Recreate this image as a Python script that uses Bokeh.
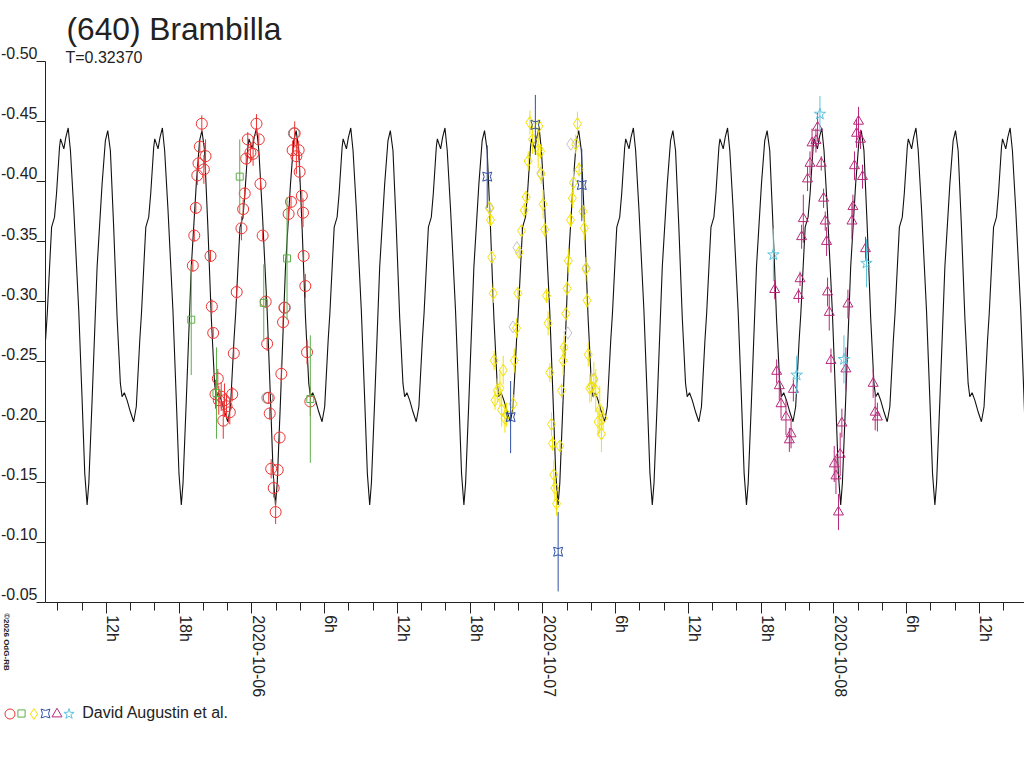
import math
from datetime import datetime, timezone

from bokeh.plotting import figure
from bokeh.models import Range1d, FixedTicker, Label, Legend, LegendItem, LinearAxis, ColumnDataSource
from bokeh.embed import file_html
from bokeh.resources import INLINE

# times are hours after 2020-10-05 00:00 UT, values are reduced magnitudes
period_h = 0.32370 * 24
epoch_h = 8.84

# one period of the model lightcurve (phase, mag)
model_phase = [0.000, 0.024, 0.060, 0.112, 0.148, 0.176, 0.201, 0.219, 0.254, 0.307,
               0.360, 0.395, 0.420, 0.448, 0.483, 0.519, 0.554, 0.572, 0.596, 0.625,
               0.660, 0.695, 0.723, 0.760, 0.778, 0.806, 0.824, 0.855, 0.876, 0.908,
               0.919, 0.954, 0.975]
model_mag = [-0.4445, -0.4257, -0.3759, -0.2928, -0.2181, -0.1572, -0.1309, -0.1489, -0.2181, -0.3288,
             -0.3980, -0.4340, -0.4423, -0.4257, -0.3620, -0.2873, -0.2320, -0.2209, -0.2242, -0.2181,
             -0.2084, -0.2001, -0.2126, -0.2679, -0.2901, -0.3344, -0.3620, -0.3703, -0.3897, -0.4284,
             -0.4354, -0.4271, -0.4367]

red_t = [19.86, 19.70, 20.17, 19.59, 20.03, 19.49, 19.37, 19.24, 19.12, 20.58,
         20.69, 20.80, 22.50, 21.18, 20.99, 21.46, 21.73, 21.90, 22.17, 21.63,
         22.37, 21.26, 22.74, 24.37, 23.65, 24.56, 23.87, 24.09, 23.52, 24.70,
         23.40, 23.27, 23.13, 24.88, 25.13, 25.25, 26.42, 25.38, 25.46, 26.28,
         25.58, 26.12, 25.79, 25.95, 27.52, 27.35, 27.85, 27.66, 27.93, 28.11,
         27.22, 27.02, 28.21, 28.26, 28.40, 26.67, 26.56, 28.54, 28.81]
red_m = [-0.448, -0.429, -0.421, -0.415, -0.410, -0.405, -0.378, -0.355, -0.330, -0.338,
         -0.296, -0.274, -0.257, -0.236, -0.223, -0.221, -0.218, -0.213, -0.208, -0.201,
         -0.223, -0.218, -0.308, -0.448, -0.435, -0.435, -0.424, -0.423, -0.419, -0.398,
         -0.390, -0.377, -0.361, -0.355, -0.300, -0.265, -0.240, -0.220, -0.207, -0.187,
         -0.161, -0.160, -0.145, -0.125, -0.440, -0.426, -0.426, -0.421, -0.408, -0.388,
         -0.383, -0.373, -0.374, -0.338, -0.313, -0.295, -0.283, -0.258, -0.217]
red_e = [0.007, 0.005, 0.014, 0.005, 0.012, 0.008, 0.005, 0.005, 0.005, 0.005,
         0.006, 0.004, 0.004, 0.008, 0.012, 0.012, 0.014, 0.010, 0.010, 0.015,
         0.006, 0.012, 0.006, 0.008, 0.006, 0.004, 0.008, 0.010, 0.005, 0.005,
         0.005, 0.008, 0.010, 0.004, 0.005, 0.006, 0.008, 0.005, 0.005, 0.005,
         0.008, 0.005, 0.008, 0.010, 0.010, 0.008, 0.008, 0.015, 0.008, 0.005,
         0.005, 0.006, 0.012, 0.005, 0.010, 0.004, 0.006, 0.010, 0.012]

green_t = [18.99, 22.99, 21.07, 24.97, 26.89, 28.81]
green_m = [-0.285, -0.404, -0.224, -0.299, -0.336, -0.219]
green_e = [0.046, 0.031, 0.038, 0.032, 0.051, 0.053]

grey_circ_t = [25.27, 27.45, 26.71]
grey_circ_m = [-0.220, -0.440, -0.295]

yellow_t = [43.57, 43.67, 43.77, 43.90, 43.97, 44.72, 44.23, 44.45, 44.04, 44.59,
            44.86, 45.54, 45.00, 45.63, 45.82, 45.93, 46.04, 46.23, 46.45, 46.61,
            46.78, 46.92, 47.66, 47.14, 47.60, 47.80, 47.85, 48.01, 48.15, 48.29,
            48.42, 48.56, 48.70, 48.79, 49.39, 48.89, 48.98, 49.12, 49.53, 49.66,
            49.74, 49.88, 49.99, 50.09, 50.27, 50.42, 50.51, 50.70, 50.84, 50.98,
            51.30, 51.40, 51.54, 51.63, 51.73, 52.19, 52.00, 51.86, 52.35, 52.68,
            52.54, 52.95, 52.82]
yellow_m = [-0.378, -0.368, -0.337, -0.307, -0.251, -0.243, -0.226, -0.228, -0.218, -0.210,
            -0.203, -0.215, -0.206, -0.251, -0.278, -0.307, -0.341, -0.359, -0.376, -0.387,
            -0.417, -0.449, -0.446, -0.435, -0.426, -0.425, -0.406, -0.381, -0.360, -0.305,
            -0.282, -0.241, -0.198, -0.182, -0.180, -0.156, -0.145, -0.132, -0.226, -0.251,
            -0.262, -0.290, -0.311, -0.334, -0.368, -0.386, -0.399, -0.431, -0.448, -0.410,
            -0.375, -0.361, -0.327, -0.301, -0.256, -0.235, -0.229, -0.228, -0.226, -0.210,
            -0.200, -0.203, -0.190]
yellow_e = [0.006, 0.005, 0.005, 0.008, 0.008, 0.012, 0.010, 0.015, 0.008, 0.014,
            0.012, 0.008, 0.010, 0.010, 0.008, 0.005, 0.005, 0.005, 0.006, 0.005,
            0.008, 0.010, 0.006, 0.012, 0.015, 0.006, 0.008, 0.012, 0.006, 0.006,
            0.010, 0.008, 0.010, 0.006, 0.005, 0.012, 0.010, 0.010, 0.006, 0.012,
            0.010, 0.006, 0.006, 0.010, 0.006, 0.008, 0.010, 0.008, 0.010, 0.006,
            0.005, 0.010, 0.010, 0.006, 0.010, 0.015, 0.012, 0.012, 0.018, 0.020,
            0.012, 0.010, 0.015]

grey_diam_t = [43.63, 45.52, 45.85, 47.82, 50.05, 50.29, 51.57, 52.19]
grey_diam_m = [-0.378, -0.279, -0.345, -0.407, -0.274, -0.431, -0.328, -0.236]

blue_t = [43.40, 45.33, 47.37, 49.25, 51.20]
blue_m = [-0.404, -0.204, -0.447, -0.092, -0.397]
blue_e = [0.026, 0.030, 0.025, 0.033, 0.030]

magenta_t = [70.65, 70.19, 70.51, 70.02, 69.82, 70.95, 71.14, 69.47, 71.28, 69.33,
             71.39, 69.20, 69.08, 71.47, 67.11, 74.02, 73.86, 74.19, 73.69, 74.35,
             73.56, 73.48, 74.60, 73.15, 71.61, 71.75, 72.98, 67.27, 67.49, 68.65,
             67.63, 68.04, 68.46, 68.32, 72.65, 72.51, 72.02, 72.16, 72.37, 75.23,
             75.40, 75.58]
magenta_m = [-0.445, -0.432, -0.434, -0.415, -0.402, -0.415, -0.386, -0.369, -0.367, -0.354,
             -0.350, -0.319, -0.305, -0.308, -0.310, -0.450, -0.440, -0.435, -0.413, -0.404,
             -0.379, -0.367, -0.344, -0.298, -0.291, -0.251, -0.244, -0.242, -0.230, -0.227,
             -0.215, -0.204, -0.190, -0.185, -0.199, -0.173, -0.165, -0.155, -0.125, -0.232,
             -0.208, -0.204]
magenta_e = [0.012, 0.012, 0.010, 0.010, 0.010, 0.006, 0.008, 0.020, 0.008, 0.010,
             0.012, 0.006, 0.006, 0.012, 0.008, 0.012, 0.012, 0.008, 0.012, 0.010,
             0.010, 0.015, 0.010, 0.012, 0.015, 0.010, 0.018, 0.010, 0.012, 0.010,
             0.012, 0.015, 0.012, 0.010, 0.012, 0.018, 0.015, 0.015, 0.015, 0.012,
             0.015, 0.012]

cyan_t = [70.84, 67.00, 74.68, 68.92, 72.82]
cyan_m = [-0.456, -0.339, -0.332, -0.239, -0.252]
cyan_e = [0.015, 0.022, 0.020, 0.016, 0.020]

# axis ticks
x_tick_hours = [12, 18, 24, 30, 36, 42, 48, 54, 60, 66, 72, 78, 84]
x_tick_labels = ["12h", "18h", "2020-10-06", "6h", "12h", "18h", "2020-10-07",
                 "6h", "12h", "18h", "2020-10-08", "6h", "12h"]
y_ticks = [-0.50, -0.45, -0.40, -0.35, -0.30, -0.25, -0.20, -0.15, -0.10, -0.05]
y_tick_labels = ["-0.50", "-0.45", "-0.40", "-0.35", "-0.30", "-0.25", "-0.20", "-0.15", "-0.10", "-0.05"]

BASE = datetime(2020, 10, 5, tzinfo=timezone.utc).timestamp() * 1000
HOUR = 3600 * 1000.0


def ms(hours):
    return [BASE + h * HOUR for h in hours]


FONT = "Liberation Sans"
TXT = "#222222"

# the frame covers the whole canvas, the axes are pinned inside it
x_start = BASE + 3.258 * HOUR
x_end = BASE + 87.712 * HOUR
x_axis_at = BASE + 6.969 * HOUR
y_top = -0.5505
y_bottom = 0.0883
lab_dy = 0.00665      # y labels sit above their ticks
lab_dx = 0.495        # x labels sit right of their ticks (hours)

p = figure(width=1024, height=768, x_axis_type="datetime",
           x_range=Range1d(x_start, x_end), y_range=Range1d(y_bottom, y_top),
           output_backend="svg", toolbar_location=None,
           min_border_left=0, min_border_right=0, min_border_top=0, min_border_bottom=0)
p.title.visible = False
p.outline_line_color = None
p.grid.visible = False
p.background_fill_color = "white"
p.border_fill_color = "white"

# model curve, repeated every period from the left axis on
curve_t = []
curve_m = []
for k in range(-1, 11):
    for ph, mg in zip(model_phase, model_mag):
        h = epoch_h + (k + ph) * period_h
        if h >= 6.96:
            curve_t.append(BASE + h * HOUR)
            curve_m.append(mg)
p.line(curve_t, curve_m, line_color="#111111", line_width=1.1)


def add_session(t, m, e, marker, color, size):
    if e is not None:
        src = ColumnDataSource(dict(x=ms(t), lo=[a - b for a, b in zip(m, e)],
                                    hi=[a + b for a, b in zip(m, e)]))
        p.segment(x0="x", y0="lo", x1="x", y1="hi", line_color=color, line_width=1, source=src)
    return p.scatter(ms(t), m, marker=marker, size=size,
                     line_color=color, fill_color=None, line_width=1)


add_session(grey_circ_t, grey_circ_m, None, "circle", "#8c8c8c", 11)
add_session(grey_diam_t, grey_diam_m, None, "diamond", "#c4c4c4", 12)
r_red = add_session(red_t, red_m, red_e, "circle", "#ee3333", 11)
r_green = add_session(green_t, green_m, green_e, "square", "#5cb04a", 7)
r_yellow = add_session(yellow_t, yellow_m, yellow_e, "diamond", "#f2e200", 12)
r_blue = add_session(blue_t, blue_m, blue_e, "square_pin", "#3050a8", 9)
r_magenta = add_session(magenta_t, magenta_m, magenta_e, "triangle", "#b8287a", 10)
r_cyan = add_session(cyan_t, cyan_m, cyan_e, "star", "#5cc4de", 12)

# x axis: tick marks
xa = p.xaxis[0]
xa.fixed_location = -0.05
xa.bounds = (x_axis_at, x_end)
xa.ticker = FixedTicker(ticks=ms(x_tick_hours), minor_ticks=ms(list(range(8, 88, 2))))
xa.major_tick_out = 11
xa.major_tick_in = 0
xa.minor_tick_out = 8
xa.minor_tick_in = 0
xa.major_label_text_color = None
xa.axis_line_color = TXT
xa.major_tick_line_color = TXT
xa.minor_tick_line_color = TXT

# x axis: rotated labels
x_lab_ticks = ms([h + lab_dx for h in x_tick_hours])
xl = LinearAxis(fixed_location=-0.05, ticker=FixedTicker(ticks=x_lab_ticks, minor_ticks=[]),
                major_label_overrides=dict(zip(x_lab_ticks, x_tick_labels)),
                major_label_orientation=-math.pi / 2, major_label_standoff=13,
                major_tick_out=0, major_tick_in=0, minor_tick_out=0, minor_tick_in=0,
                axis_line_color=None, major_tick_line_color=None, minor_tick_line_color=None,
                major_label_text_font=FONT, major_label_text_font_size="16px",
                major_label_text_color=TXT)
p.add_layout(xl, "below")

# y axis: tick marks
ya = p.yaxis[0]
ya.fixed_location = x_axis_at
ya.bounds = (-0.50, -0.05)
ya.ticker = FixedTicker(ticks=y_ticks, minor_ticks=[])
ya.major_tick_out = 9
ya.major_tick_in = 0
ya.minor_tick_out = 0
ya.minor_tick_in = 0
ya.major_label_text_color = None
ya.axis_line_color = TXT
ya.major_tick_line_color = TXT

# y axis: labels just above the ticks
y_lab_ticks = [v - lab_dy for v in y_ticks]
yl = LinearAxis(fixed_location=x_axis_at, ticker=FixedTicker(ticks=y_lab_ticks, minor_ticks=[]),
                major_label_overrides=dict(zip(y_lab_ticks, y_tick_labels)),
                major_label_standoff=8,
                major_tick_out=0, major_tick_in=0, minor_tick_out=0, minor_tick_in=0,
                axis_line_color=None, major_tick_line_color=None, minor_tick_line_color=None,
                major_label_text_font=FONT, major_label_text_font_size="16px",
                major_label_text_color=TXT)
p.add_layout(yl, "left")

p.add_layout(Label(x=x_start, y=-0.50, x_offset=66, y_offset=32, text="(640) Brambilla",
                   text_align="left", text_baseline="alphabetic",
                   text_font=FONT, text_font_size="31.7px", text_color=TXT))
p.add_layout(Label(x=x_start, y=-0.50, x_offset=65, y_offset=3.5, text="T=0.32370",
                   text_align="left", text_baseline="alphabetic",
                   text_font=FONT, text_font_size="16px", text_color=TXT))
p.add_layout(Label(x=x_start, y=-0.05, x_offset=1, y_offset=-11, text="\u00a92026 OdG-RB",
                   angle=-math.pi / 2, text_align="left", text_baseline="bottom",
                   text_font=FONT, text_font_size="8px", text_font_style="bold", text_color=TXT))

# legend line: one small legend per symbol so they can sit close together
legend_items = [(r_red, "", 9.2, 25), (r_green, "", 21.0, 18), (r_yellow, "", 33.3, 27),
                (r_blue, "", 44.5, 22), (r_magenta, "", 56.7, 25),
                (r_cyan, "David Augustin et al.", 68.7, 27)]
for rend, lab, cx, box in legend_items:
    p.add_layout(Legend(items=[LegendItem(label=lab, renderers=[rend])],
                        location=(cx - box / 2, 768 - 713 - box / 2), orientation="horizontal",
                        glyph_width=box, glyph_height=box, label_standoff=0,
                        padding=0, margin=0, label_width=0, label_height=16,
                        border_line_color=None, background_fill_alpha=0,
                        label_text_font=FONT, label_text_font_size="16px",
                        label_text_color=TXT))

open("out.html", "w").write(file_html(p, INLINE))
